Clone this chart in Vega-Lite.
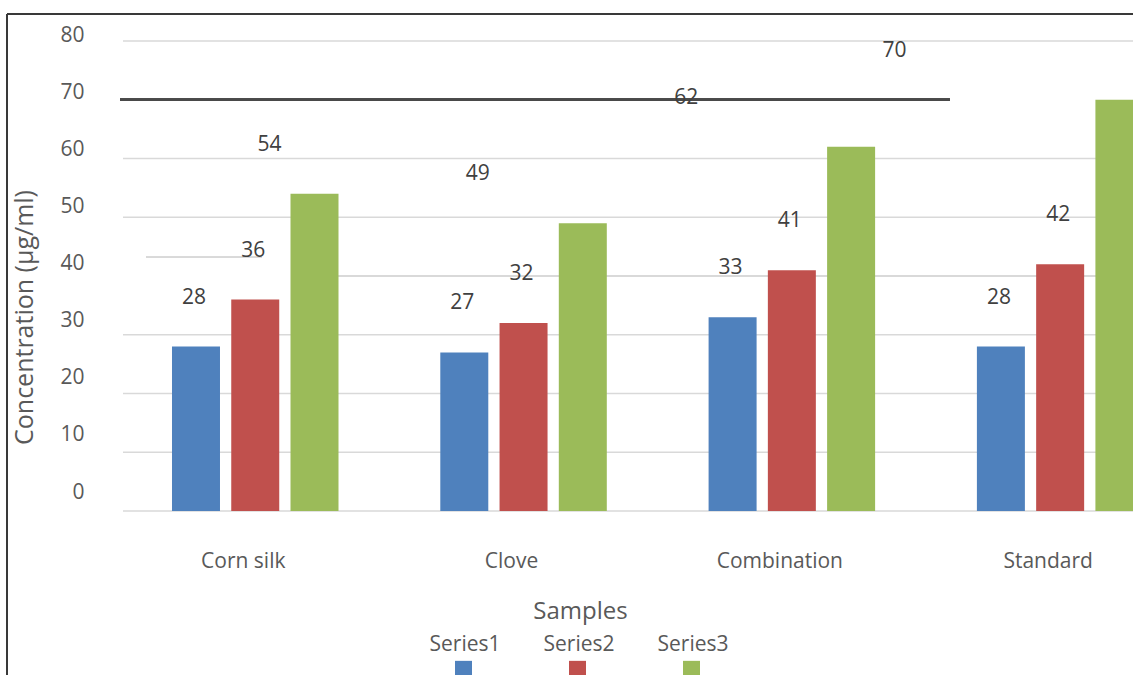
{
  "$schema": "https://vega.github.io/schema/vega-lite/v6.json",
  "width": 1010,
  "height": 470,
  "autosize": {"type": "none"},
  "padding": {"left": 123, "top": 41, "right": 0, "bottom": 164},
  "background": "white",
  "config": {
    "view": {"stroke": null},
    "font": "Open Sans",
    "text": {"font": "Open Sans"}
  },
  "datasets": {
    "conc": [
      {"sample": "Corn silk", "series": "Series1", "value": 28},
      {"sample": "Corn silk", "series": "Series2", "value": 36},
      {"sample": "Corn silk", "series": "Series3", "value": 54},
      {"sample": "Clove", "series": "Series1", "value": 27},
      {"sample": "Clove", "series": "Series2", "value": 32},
      {"sample": "Clove", "series": "Series3", "value": 49},
      {"sample": "Combination", "series": "Series1", "value": 33},
      {"sample": "Combination", "series": "Series2", "value": 41},
      {"sample": "Combination", "series": "Series3", "value": 62},
      {"sample": "Standard", "series": "Series1", "value": 28},
      {"sample": "Standard", "series": "Series2", "value": 42},
      {"sample": "Standard", "series": "Series3", "value": 70}
    ],
    "grid": [
      {"level": 0}, {"level": 10}, {"level": 20}, {"level": 30},
      {"level": 50}, {"level": 60}, {"level": 80}
    ],
    "ticks": [
      {"level": 0}, {"level": 10}, {"level": 20}, {"level": 30}, {"level": 40},
      {"level": 50}, {"level": 60}, {"level": 70}, {"level": 80}
    ]
  },
  "layer": [
    {
      "data": {"name": "ticks"},
      "mark": {"type": "rule", "opacity": 0},
      "encoding": {
        "y": {
          "field": "level",
          "type": "quantitative",
          "title": "Concentration (µg/ml)",
          "scale": {"domain": [0, 80], "nice": false, "range": [457, 0]},
          "axis": {
            "values": [0, 10, 20, 30, 40, 50, 60, 70, 80],
            "grid": false,
            "domain": false,
            "ticks": false,
            "tickSize": 0,
            "labelPadding": 39,
            "labelFont": "Open Sans",
            "labelFontSize": 21,
            "labelColor": "#595959",
            "labelBaseline": "alphabetic",
            "titleFont": "Open Sans",
            "titleFontSize": 25,
            "titleFontWeight": "normal",
            "titleColor": "#595959",
            "titleAngle": -90,
            "titleAlign": "center",
            "titleBaseline": "alphabetic",
            "titleX": -91,
            "titleY": 276
          }
        }
      }
    },
    {
      "data": {"name": "grid"},
      "mark": {"type": "rule", "color": "#d9d9d9", "strokeWidth": 1.5},
      "encoding": {
        "y": {
          "field": "level",
          "type": "quantitative",
          "scale": {"domain": [0, 80], "nice": false},
          "axis": null
        }
      }
    },
    {
      "data": {"name": "conc"},
      "layer": [
        {
          "mark": {"type": "rule", "color": "#3a3a3a", "strokeWidth": 1.5},
          "encoding": {
            "y": {"datum": 84.6, "type": "quantitative", "axis": null},
            "x": {"datum": "Corn silk", "bandPosition": -0.991},
            "x2": {"value": "width"}
          }
        },
        {
          "mark": {"type": "rule", "color": "#3a3a3a", "strokeWidth": 1.5},
          "encoding": {
            "x": {"datum": "Corn silk", "bandPosition": -0.991},
            "y": {"datum": 84.6, "type": "quantitative", "axis": null},
            "y2": {"datum": -28}
          }
        },
        {
          "mark": {"type": "rule", "color": "#d9d9d9", "strokeWidth": 1.5},
          "encoding": {
            "y": {"datum": 40, "type": "quantitative", "axis": null},
            "x": {"datum": "Corn silk", "bandPosition": 0.8},
            "x2": {"value": "width"}
          }
        },
        {
          "mark": {"type": "rule", "color": "#d9d9d9", "strokeWidth": 1.5},
          "encoding": {
            "y": {"datum": 43.2, "type": "quantitative", "axis": null},
            "x": {"datum": "Corn silk", "bandPosition": -0.156},
            "x2": {"datum": "Corn silk", "bandPosition": 0.54}
          }
        },
        {
          "mark": {"type": "rule", "color": "#4a4a4a", "strokeWidth": 2},
          "encoding": {
            "y": {"datum": 70, "type": "quantitative", "axis": null},
            "x": {"datum": "Corn silk", "bandPosition": -0.312},
            "x2": {"datum": "Standard", "bandPosition": -0.162}
          }
        },
        {
          "mark": {"type": "bar"},
          "encoding": {
            "x": {
              "field": "sample",
              "type": "nominal",
              "title": "Samples",
              "scale": {
                "domain": ["Corn silk", "Clove", "Combination", "Standard"],
                "range": [0, 1069.4],
                "paddingInner": 0.3794,
                "paddingOuter": 0.1826
              },
              "axis": {
                "labelAngle": 0,
                "labelAlign": "center",
                "domain": false,
                "ticks": false,
                "tickSize": 0,
                "labelPadding": 56,
                "labelBaseline": "alphabetic",
                "labelOffset": -12,
                "labelFont": "Open Sans",
                "labelFontSize": 21,
                "labelColor": "#595959",
                "titleFont": "Open Sans",
                "titleFontSize": 24,
                "titleFontWeight": "normal",
                "titleColor": "#595959",
                "titleAlign": "center",
                "titleBaseline": "alphabetic",
                "titleX": 457,
                "titleY": 107
              }
            },
            "xOffset": {
              "field": "series",
              "type": "nominal",
              "scale": {"paddingInner": 0.19, "paddingOuter": 0}
            },
            "y": {
              "field": "value",
              "type": "quantitative",
              "scale": {"domain": [0, 80], "nice": false},
              "axis": null
            },
            "color": {
              "field": "series",
              "type": "nominal",
              "scale": {
                "domain": ["Series1", "Series2", "Series3"],
                "range": ["#4F81BD", "#C0504D", "#9BBB59"]
              },
              "legend": {
                "orient": "none",
                "legendX": 330,
                "legendY": 599,
                "direction": "horizontal",
                "title": null,
                "padding": 0,
                "symbolType": "M-1,1.2H1V3.2H-1Z",
                "symbolSize": 289,
                "symbolStrokeWidth": 0,
                "labelAlign": "center",
                "labelOffset": -9,
                "labelBaseline": "alphabetic",
                "labelFont": "Open Sans",
                "labelFontSize": 21,
                "labelColor": "#595959",
                "labelLimit": 0,
                "columnPadding": 42
              }
            }
          }
        },
        {
          "transform": [{"filter": "datum.series !== 'Series3'"}],
          "mark": {
            "type": "text",
            "baseline": "alphabetic",
            "align": "center",
            "dy": -43,
            "dx": -2,
            "fontSize": 21,
            "color": "#404040"
          },
          "encoding": {
            "x": {"field": "sample", "type": "nominal"},
            "xOffset": {"field": "series", "type": "nominal"},
            "y": {"field": "value", "type": "quantitative", "axis": null},
            "text": {"field": "value", "type": "quantitative"}
          }
        }
      ]
    },
    {
      "data": {"name": "conc"},
      "transform": [{"filter": "datum.series === 'Series3'"}],
      "mark": {
        "type": "text",
        "baseline": "alphabetic",
        "align": "center",
        "dy": -43,
        "fontSize": 21,
        "color": "#404040"
      },
      "encoding": {
        "x": {
          "field": "sample",
          "type": "nominal",
          "scale": {
            "type": "point",
            "domain": ["Corn silk", "Clove", "Combination", "Standard"],
            "range": [146.5, 771.5],
            "padding": 0
          },
          "axis": null
        },
        "y": {
          "field": "value",
          "type": "quantitative",
          "scale": {"domain": [0, 80], "nice": false},
          "axis": null
        },
        "text": {"field": "value", "type": "quantitative"}
      }
    }
  ],
  "resolve": {"scale": {"x": "independent", "y": "independent"}}
}
